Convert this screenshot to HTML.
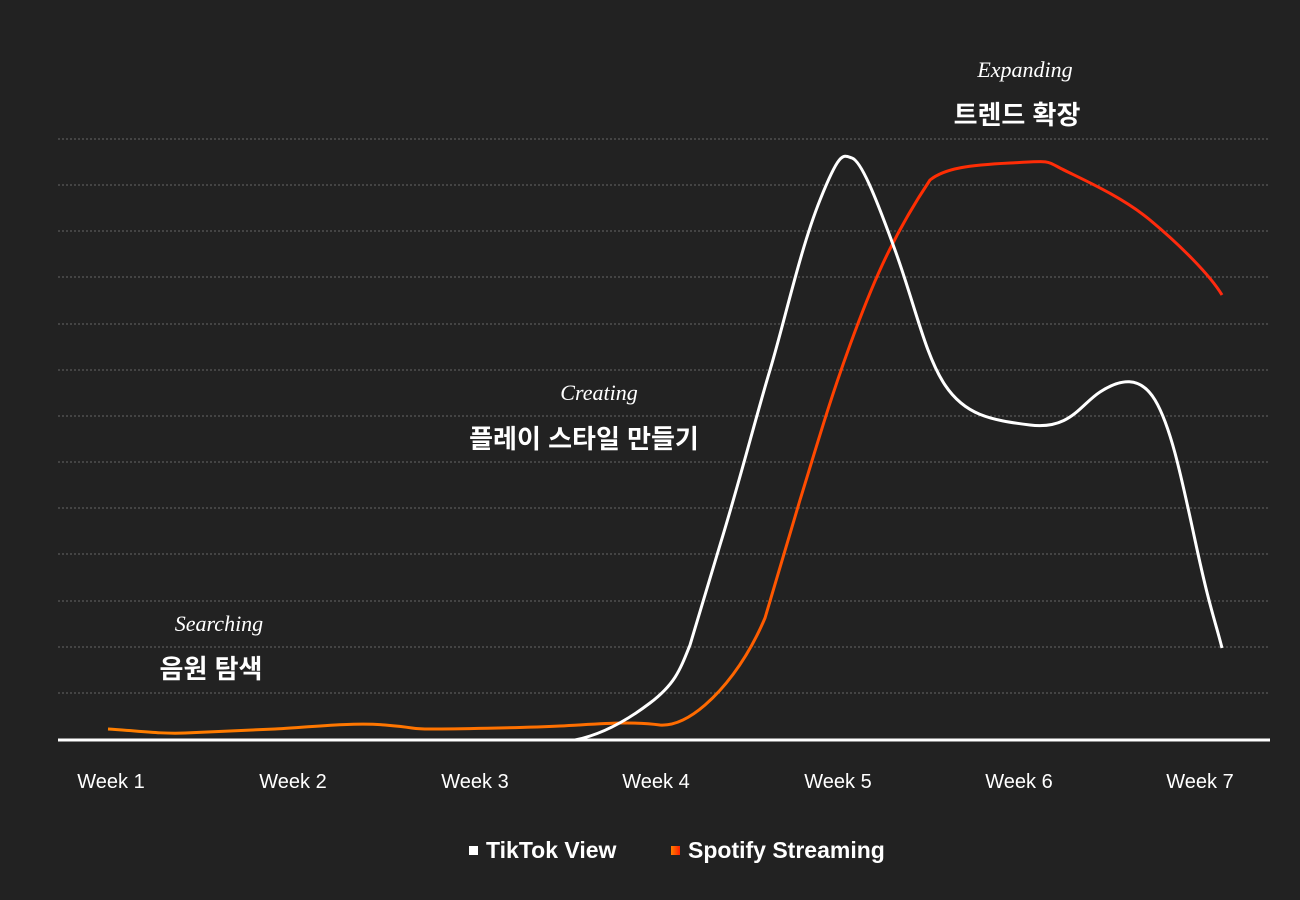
<!DOCTYPE html>
<html><head><meta charset="utf-8"><style>
html,body{margin:0;padding:0;background:#222222;}
svg{display:block}
.k{font-family:"Liberation Sans","Noto Sans CJK KR",sans-serif;font-weight:bold;fill:#fff;font-size:26px}
.s{font-family:"Liberation Serif",serif;font-style:italic;fill:#fff;font-size:22px}
.w{font-family:"Liberation Sans",sans-serif;fill:#fff;font-size:20px}
.l{font-family:"Liberation Sans",sans-serif;font-weight:bold;fill:#fff;font-size:23px}
</style></head><body>
<svg width="1300" height="900" viewBox="0 0 1300 900">
<defs><linearGradient id="g" x1="0" x2="1"><stop offset="0" stop-color="#ff7f00"/><stop offset="0.55" stop-color="#ff6a00"/><stop offset="0.7" stop-color="#ff2e00"/><stop offset="1" stop-color="#ff2a10"/></linearGradient>
<linearGradient id="g2" x1="0" x2="1"><stop offset="0" stop-color="#ff8000"/><stop offset="1" stop-color="#ff2000"/></linearGradient></defs>
<g stroke="#666" stroke-width="1" stroke-dasharray="2,2">
<line x1="58" x2="1270" y1="139" y2="139"/><line x1="58" x2="1270" y1="185" y2="185"/><line x1="58" x2="1270" y1="231" y2="231"/><line x1="58" x2="1270" y1="277" y2="277"/><line x1="58" x2="1270" y1="324" y2="324"/><line x1="58" x2="1270" y1="370" y2="370"/><line x1="58" x2="1270" y1="416" y2="416"/><line x1="58" x2="1270" y1="462" y2="462"/><line x1="58" x2="1270" y1="508" y2="508"/><line x1="58" x2="1270" y1="554" y2="554"/><line x1="58" x2="1270" y1="601" y2="601"/><line x1="58" x2="1270" y1="647" y2="647"/><line x1="58" x2="1270" y1="693" y2="693"/>
</g>
<line x1="58" x2="1270" y1="740" y2="740" stroke="#fff" stroke-width="3"/>
<path d="M108,729 C140,731 160,734 185,733 S250,730 275,729 S350,722 385,725 S410,729 430,729 S520,728 560,726 S630,721 660,725 C675,726 690,718 705,705 S745,665 765,618 L800,500 C820,435 830,400 850,345 S890,240 930,180 C945,168 970,165 1010,163 S1045,160 1060,168 S1120,195 1150,220 S1210,275 1222,295" fill="none" stroke="url(#g)" stroke-width="3"/>
<path d="M575,740 C600,735 625,722 650,703 S680,670 690,645 L720,545 C740,480 755,420 770,370 S800,250 820,200 S843,155 852,158 S875,195 895,250 S925,355 945,385 S990,420 1030,425 S1080,405 1100,392 S1140,375 1155,400 S1180,470 1195,540 S1215,620 1222,648" fill="none" stroke="#fff" stroke-width="3"/>
<text class="s" x="1025" y="77" text-anchor="middle">Expanding</text>
<text class="k" x="1017" y="124" text-anchor="middle">트렌드 확장</text>
<text class="s" x="599" y="400" text-anchor="middle">Creating</text>
<text class="k" x="584" y="448" text-anchor="middle">플레이 스타일 만들기</text>
<text class="s" x="219" y="631" text-anchor="middle">Searching</text>
<text class="k" x="211" y="678" text-anchor="middle">음원 탐색</text>
<g class="w" text-anchor="middle">
<text x="111" y="788">Week 1</text><text x="293" y="788">Week 2</text><text x="475" y="788">Week 3</text><text x="656" y="788">Week 4</text><text x="838" y="788">Week 5</text><text x="1019" y="788">Week 6</text><text x="1200" y="788">Week 7</text>
</g>
<rect x="469" y="846" width="9" height="9" fill="#fff"/>
<text class="l" x="486" y="858">TikTok View</text>
<rect x="671" y="846" width="9" height="9" fill="url(#g2)"/>
<text class="l" x="688" y="858">Spotify Streaming</text>
</svg>
</body></html>
